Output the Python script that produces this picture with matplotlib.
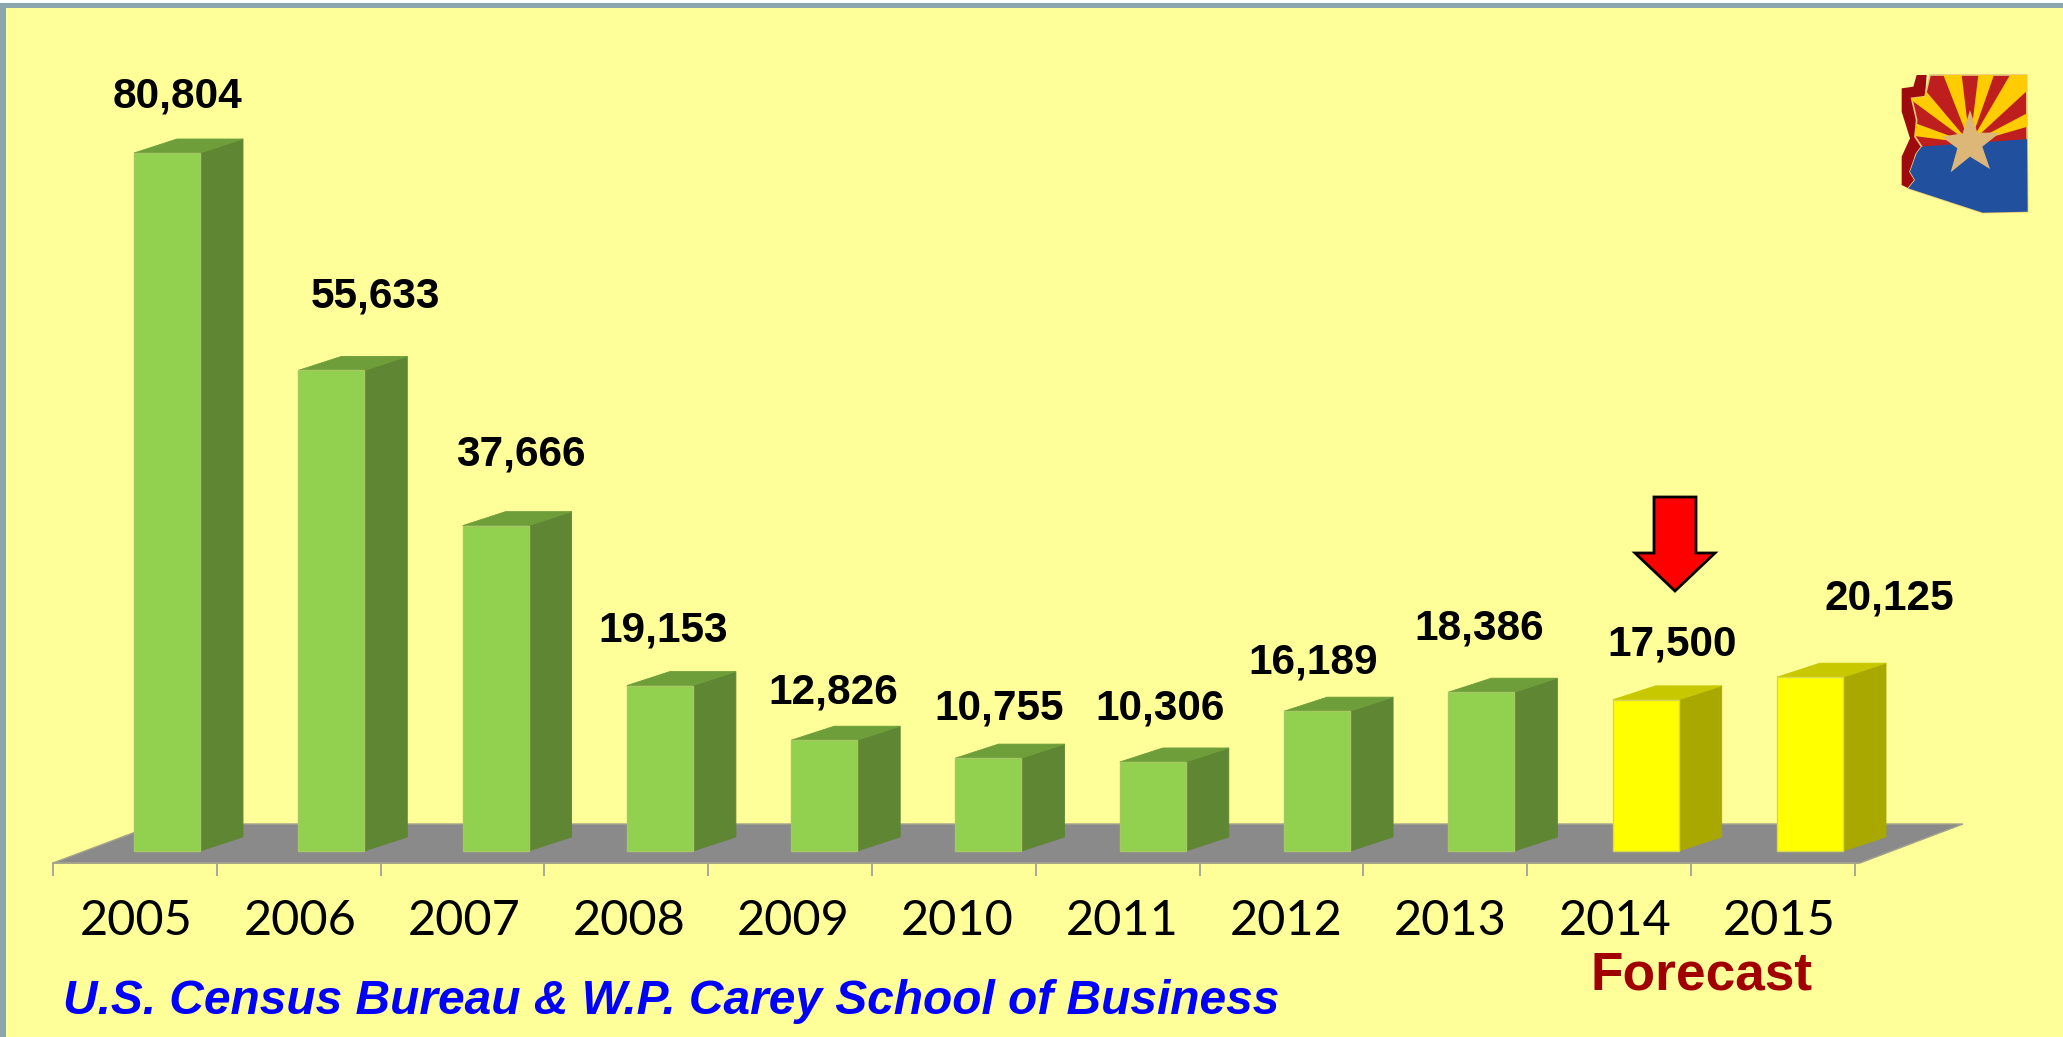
import numpy as np
import matplotlib
matplotlib.use("Agg")
import matplotlib.pyplot as plt
from matplotlib.patches import Polygon, Rectangle

# ---- data ----
years = ["2005", "2006", "2007", "2008", "2009", "2010", "2011", "2012", "2013", "2014", "2015"]
permits = [80804, 55633, 37666, 19153, 12826, 10755, 10306, 16189, 18386, 17500, 20125]
forecast_flags = [False] * 9 + [True, True]

# ---- layout (pixels of the 2063x1037 canvas) ----
W, H = 2063, 1037
X0, XSTEP = 167.0, 164.3       # centre of first bar, bar spacing
Y0, YK = 851.0, 698.0 / 80804  # baseline, pixels per unit
BAR_W = 66.0 / XSTEP
DX, DY = 43.0 / XSTEP, 14.0 / YK   # 3-D depth in data units
label_xy = [(178, 97), (375, 297), (521, 455), (663, 630), (833, 692), (999, 709),
            (1160, 709), (1313, 663), (1479, 629), (1672, 645), (1889, 599)]

BG = "#FFFF99"
FRAME = "#8CA6AE"
GREEN = ("#92D050", "#5F8632", "#6E9E3A")
YELLOW = ("#FFFF00", "#A8A800", "#C8C800")
BOLD = "Liberation Sans"

fig = plt.figure(figsize=(W / 100, H / 100), dpi=100, facecolor="white")
ax = fig.add_axes([0, 0, 1, 1], facecolor=BG)
ax.set_xlim(-X0 / XSTEP, (W - X0) / XSTEP)
ax.set_ylim((Y0 - H) * 1 / YK, Y0 / YK)

# floor
front_y = -12 / YK
back_y = 27 / YK
px = lambda p: (p - X0) / XSTEP
ax.add_patch(Polygon([(px(53), front_y), (px(1860), front_y), (px(1963), back_y), (px(157), back_y)],
                     closed=True, fc="#8A8A8A", ec="#A3A38C", lw=1, zorder=1))

# bars
x = np.arange(len(years), dtype=float)
fronts = [YELLOW[0] if f else GREEN[0] for f in forecast_flags]
edges = ["#D8D850" if f else "#A4C862" for f in forecast_flags]
ax.bar(x, permits, width=BAR_W, color=fronts, edgecolor=edges, linewidth=1, zorder=3)
for xi, v, f in zip(x, permits, forecast_flags):
    c = YELLOW if f else GREEN
    l, r = xi - BAR_W / 2, xi + BAR_W / 2
    ax.add_patch(Polygon([(r, 0), (r + DX, DY), (r + DX, v + DY), (r, v)], closed=True,
                         fc=c[1], ec=c[1], lw=0.6, zorder=2))
    ax.add_patch(Polygon([(l, v), (r, v), (r + DX, v + DY), (l + DX, v + DY)], closed=True,
                         fc=c[2], ec=c[2], lw=0.6, zorder=2))

# axis: labels on major ticks, tick marks on minor ticks
ax.spines[["top", "left", "right"]].set_visible(False)
ax.spines["bottom"].set_position(("data", front_y))
ax.spines["bottom"].set_color("#A3A38C")
ax.spines["bottom"].set_linewidth(1.2)
ax.spines["bottom"].set_zorder(2)
ax.spines["bottom"].set_bounds(px(53), px(1858))
ax.set_yticks([])
ax.set_xticks(x - 31 / XSTEP, years)
ax.set_xticks(x[0] - 114 / XSTEP + np.arange(12) * 163.8 / XSTEP, minor=True)
ax.tick_params(axis="x", which="major", length=0, pad=26, labelsize=35, labelcolor="black")
for t in ax.get_xticklabels():
    t.set_fontfamily("Lato")
ax.tick_params(axis="x", which="minor", length=9.4, width=1.2, color="#999999")

# overlay in canvas pixels for annotations and decoration
ov = fig.add_axes([0, 0, 1, 1], facecolor="none")
ov.set_xlim(0, W)
ov.set_ylim(H, 0)
ov.axis("off")

ov.add_patch(Rectangle((0, 0), W, 3, fc="white", ec="none", zorder=5))
ov.add_patch(Rectangle((0, 3), W, 5, fc=FRAME, ec="none", zorder=6))
ov.add_patch(Rectangle((0, 3), 6, H, fc=FRAME, ec="none", zorder=6))

for v, (lx, ly) in zip(permits, label_xy):
    ov.text(lx, ly, f"{v:,}", ha="center", va="center", fontsize=30.5, fontweight="bold",
            family=BOLD, color="black", zorder=7)

ov.text(63, 1014, "U.S. Census Bureau & W.P. Carey School of Business", ha="left", va="baseline",
        fontsize=34.5, fontweight="bold", fontstyle="italic", family=BOLD, color="#0000FF", zorder=7)
ov.text(1702, 990, "Forecast", ha="center", va="baseline", fontsize=38.3, fontweight="bold",
        family=BOLD, color="#A00000", zorder=7)

# red arrow
ov.add_patch(Polygon([(1654, 497), (1696, 497), (1696, 553), (1715, 553), (1675, 591),
                      (1635, 553), (1654, 553)], closed=True, fc="#FF0000", ec="black",
                     lw=2, joinstyle="miter", zorder=7))

# Arizona logo, outline traced in zoom coordinates
def lg(pts):
    return [(1800 + a / 3, 40 + b / 3) for a, b in pts]

state = lg([(390, 105), (680, 105), (683, 515), (548, 518), (325, 445), (345, 420), (330, 395),
            (350, 340), (365, 320), (345, 290), (350, 240), (335, 175), (375, 170)])
strip = lg([(350, 105), (380, 105), (375, 170), (335, 175), (350, 240), (345, 290), (365, 320),
            (345, 345), (335, 395), (345, 420), (325, 445), (305, 435), (305, 350), (330, 295),
            (305, 215), (305, 145), (340, 140)])
ov.add_patch(Polygon(strip, closed=True, fc="#9E0B0F", ec="none", zorder=7))
base = Polygon(state, closed=True, fc="#BE1E1E", ec="#E8C878", lw=1.2, zorder=7)
ov.add_patch(base)
wedges = [[(430, 105), (485, 105), (510, 310)], [(535, 105), (582, 105), (510, 310)],
          [(630, 105), (700, 105), (700, 135), (510, 310)], [(700, 210), (700, 255), (510, 310)],
          [(320, 170), (375, 150), (510, 310)], [(320, 240), (320, 285), (510, 310)]]
for w in wedges:
    p = Polygon(lg(w), closed=True, fc="#FFCC00", ec="none", zorder=8)
    ov.add_patch(p)
    p.set_clip_path(base)
blue = Polygon(lg([(320, 323), (700, 296), (700, 530), (320, 530)]), closed=True, fc="#21509F",
               ec="none", zorder=9)
ov.add_patch(blue)
blue.set_clip_path(base)
ov.add_patch(Polygon(lg([(510, 210), (532, 278), (600, 278), (547, 320), (570, 387), (510, 350),
                         (452, 397), (472, 325), (425, 290), (488, 280)]),
                     closed=True, fc="#DDB777", ec="none", zorder=10))

fig.savefig("out.png", dpi=100, facecolor=fig.get_facecolor())
